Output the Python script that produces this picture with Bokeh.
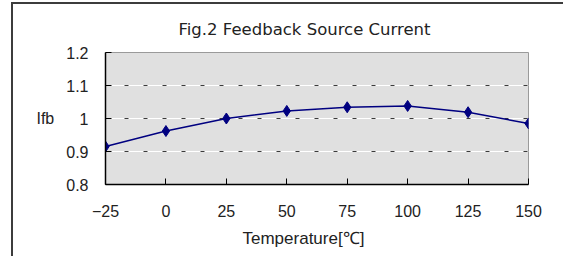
from bokeh.plotting import figure
from bokeh.models import FixedTicker, Grid, Title, Range1d
from bokeh.embed import file_html
from bokeh.resources import INLINE

# data
temps = [-25, 0, 25, 50, 75, 100, 125, 150]
ifb = [0.915, 0.962, 1.000, 1.023, 1.034, 1.038, 1.019, 0.985]
x_ticks = [-25, 0, 25, 50, 75, 100, 125, 150]
y_ticks = [0.8, 0.9, 1.0, 1.1, 1.2]
y_labels = {0.8: "0.8", 0.9: "0.9", 1.0: "1", 1.1: "1.1", 1.2: "1.2"}
x_labels = {t: ("\u221225" if t == -25 else str(t)) for t in x_ticks}
title_text = "Fig.2 Feedback Source Current"
x_title = "Temperature[\u2103]"
y_title = "Ifb"

FONT = "Liberation Sans"
FONT2 = "DejaVu Sans"

p = figure(width=552, height=254, output_backend="svg", toolbar_location=None,
           x_range=Range1d(-25, 150), y_range=Range1d(0.8, 1.2),
           min_border_left=92, min_border_right=37, min_border_top=47, min_border_bottom=74)
p.margin = (2, 0, 0, 11)
p.styles = {"border-left": "2px solid #3c3c3c", "border-top": "2px solid #3c3c3c"}

p.background_fill_color = "#e0e0e0"
p.border_fill_color = "white"
p.outline_line_color = "#9a9a9a"
p.outline_line_width = 1

t = Title(text=title_text, align="left", text_font_size="16.5px",
          text_font_style="normal", text_font=FONT2, text_color="#222222", offset=73, standoff=27)
p.add_layout(t, "above")

xt = Title(text=x_title, align="left", text_font_size="17px",
           text_font_style="normal", text_font=FONT, text_color="#222222", offset=137, standoff=14)
p.add_layout(xt, "below")

# grids: white solid plus dark dashes
p.xgrid.visible = False
p.ygrid.ticker = FixedTicker(ticks=y_ticks)
p.ygrid.grid_line_color = "white"
p.ygrid.grid_line_width = 1
dash = Grid(dimension=1, ticker=FixedTicker(ticks=[0.9, 1.0, 1.1, 1.2]),
            grid_line_color="#3a3a3a", grid_line_dash="4 15", grid_line_width=1)
p.add_layout(dash)

for ax in (p.xaxis, p.yaxis):
    ax.axis_line_color = "black"
    ax.axis_line_width = 1.5
    ax.major_tick_line_color = "black"
    ax.minor_tick_line_color = None
    ax.major_tick_out = 0
    ax.major_tick_in = 6
    ax.major_label_text_font = FONT
    ax.major_label_text_font_size = "16px"
    ax.major_label_text_color = "#222222"
    ax.axis_label_text_font = FONT
    ax.axis_label_text_font_size = "16px"
    ax.axis_label_text_font_style = "normal"
    ax.axis_label_text_color = "#222222"

p.xaxis.ticker = FixedTicker(ticks=x_ticks)
p.xaxis.major_label_overrides = x_labels
p.xaxis.major_label_standoff = 20

p.yaxis.ticker = FixedTicker(ticks=y_ticks)
p.yaxis.major_label_overrides = y_labels
p.yaxis.major_label_standoff = 17
p.yaxis.axis_label = y_title
p.yaxis.axis_label_orientation = "horizontal"
p.yaxis.axis_label_standoff = 9

p.line(temps, ifb, line_color="#000080", line_width=1.5)
p.scatter(temps, ifb, marker="diamond", size=11, fill_color="#000080", line_color="#000080")

open("out.html", "w").write(file_html(p, INLINE))
